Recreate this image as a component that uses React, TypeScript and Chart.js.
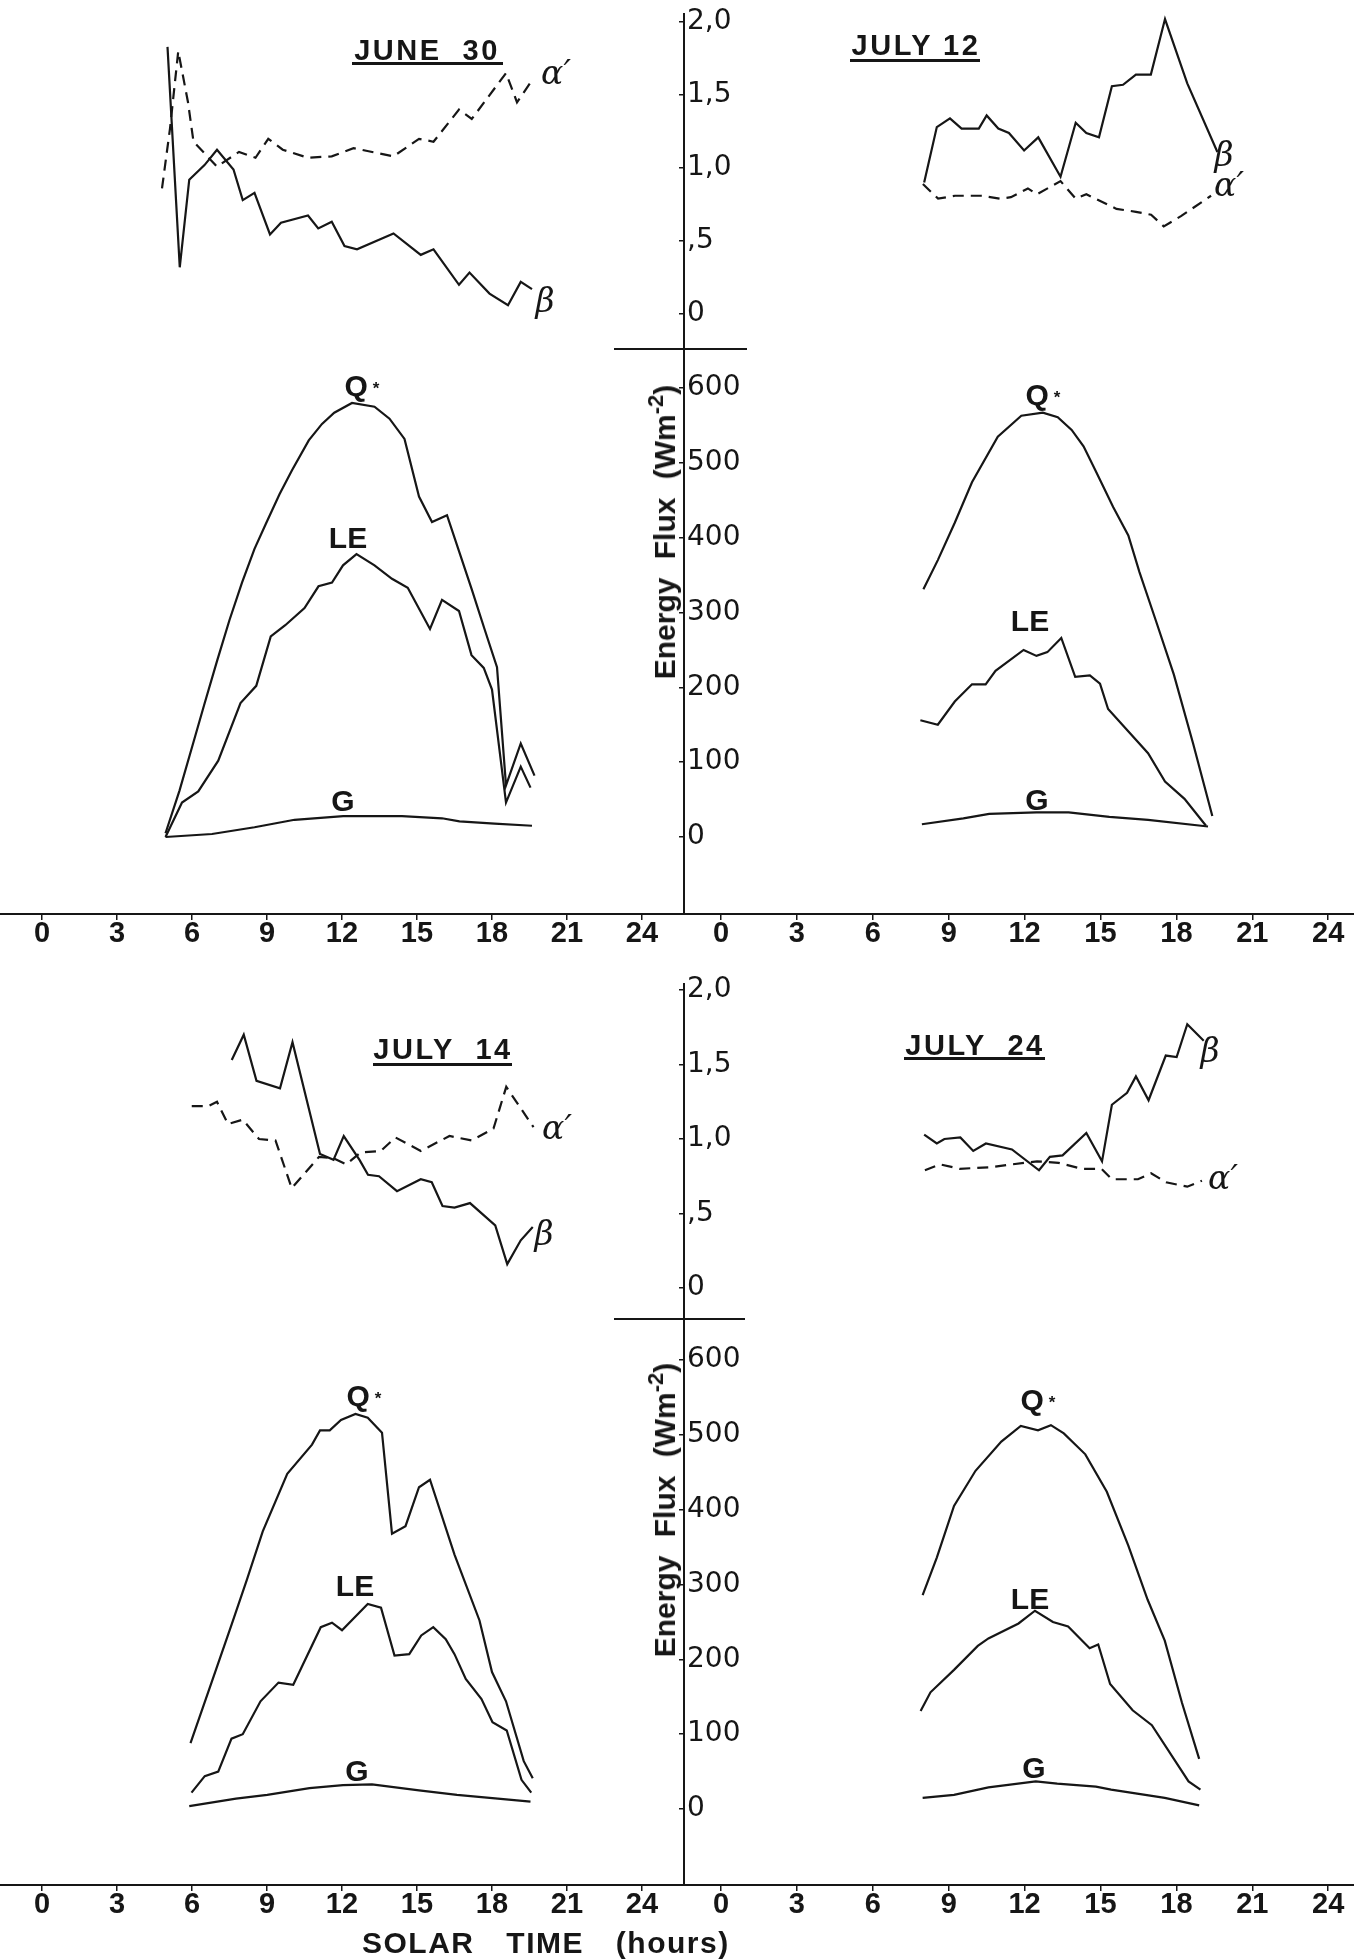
import React, { useEffect, useRef } from 'react';
import { Chart, registerables } from 'chart.js';

Chart.register(...registerables);

// ---------- tick definitions ----------
const HOUR_TICKS = [0, 3, 6, 9, 12, 15, 18, 21, 24];
const BETA_TICKS = [0, 0.5, 1, 1.5, 2];
const BETA_TICK_LABELS = ['0', ',5', '1,0', '1,5', '2,0'];
const FLUX_TICKS = [0, 100, 200, 300, 400, 500, 600];

// ---------- JUNE 30 ----------
const J30_Q_H = [4.94, 5.5, 6, 6.5, 7, 7.5, 8, 8.5, 8.96, 9.5, 10, 10.67, 11.2, 11.69, 12.4, 13.3, 13.9, 14.5, 15.08, 15.6, 16.2, 16.7, 17.2, 17.7, 18.2, 18.56, 19.15, 19.7];
const J30_Q = [5, 62, 120, 178, 235, 290, 340, 385, 419, 458, 490, 530, 552, 567, 580, 575, 559, 532, 455, 421, 430, 380, 330, 278, 227, 69, 125, 82];
const J30_LE_H = [4.94, 5.6, 6.25, 7.05, 7.94, 8.57, 9.15, 9.73, 10.5, 11.06, 11.6, 12.04, 12.58, 13.3, 14.0, 14.63, 15.52, 16.0, 16.68, 17.18, 17.67, 18.0, 18.56, 19.15, 19.54];
const J30_LE = [0, 46, 61, 102, 179, 202, 268, 283, 306, 335, 340, 363, 378, 363, 345, 333, 278, 317, 302, 243, 226, 197, 46, 94, 66];
const J30_G_H = [4.94, 6.8, 8.5, 10.1, 12.05, 14.4, 16.0, 16.7, 18.1, 19.6];
const J30_G = [0, 4, 13, 23, 28, 28, 25, 21, 18, 15];
const J30_BETA_H = [5.02, 5.51, 5.89, 6.5, 7.0, 7.66, 8.03, 8.5, 9.12, 9.56, 10.64, 11.05, 11.59, 12.1, 12.6, 14.06, 15.15, 15.66, 16.68, 17.1, 17.9, 18.64, 19.15, 19.6];
const J30_BETA = [1.83, 0.32, 0.92, 1.02, 1.125, 0.99, 0.78, 0.83, 0.545, 0.625, 0.675, 0.586, 0.632, 0.466, 0.443, 0.552, 0.405, 0.443, 0.2, 0.284, 0.14, 0.06, 0.22, 0.17];
const J30_ALPHA_H = [4.8, 5.12, 5.45, 5.84, 6.06, 7.0, 7.88, 8.54, 9.05, 9.63, 10.64, 11.59, 12.46, 14.06, 15.08, 15.66, 16.68, 17.19, 18.56, 19.0, 19.6];
const J30_ALPHA = [0.86, 1.27, 1.8, 1.45, 1.18, 1.01, 1.11, 1.07, 1.2, 1.125, 1.07, 1.08, 1.136, 1.08, 1.2, 1.18, 1.4, 1.336, 1.65, 1.45, 1.6];

// ---------- JULY 12 ----------
const J12_Q_H = [8.0, 8.57, 9.24, 9.92, 10.94, 11.87, 12.72, 13.31, 13.86, 14.33, 14.84, 15.5, 16.1, 16.54, 17.2, 17.9, 18.66, 19.42];
const J12_Q = [331, 370, 420, 474, 535, 563, 567, 561, 544, 522, 487, 441, 403, 354, 288, 217, 125, 28];
const J12_LE_H = [7.88, 8.57, 9.24, 9.92, 10.46, 10.85, 11.96, 12.47, 12.9, 13.45, 14.0, 14.58, 14.98, 15.3, 16.88, 17.55, 18.32, 19.17];
const J12_LE = [156, 150, 181, 204, 204, 222, 250, 242, 247, 266, 214, 216, 205, 171, 112, 74, 51, 15];
const J12_G_H = [7.94, 9.58, 10.6, 12.47, 13.74, 15.35, 16.88, 19.25];
const J12_G = [17, 25, 31, 33, 33, 27, 23, 14];
const J12_BETA_H = [8.03, 8.53, 9.05, 9.51, 10.19, 10.5, 10.96, 11.38, 11.98, 12.54, 13.42, 14.02, 14.44, 14.94, 15.45, 15.89, 16.4, 16.99, 17.55, 18.43, 19.62];
const J12_BETA = [0.9, 1.28, 1.34, 1.27, 1.27, 1.36, 1.27, 1.24, 1.12, 1.21, 0.94, 1.31, 1.24, 1.21, 1.56, 1.57, 1.64, 1.64, 2.02, 1.58, 1.11];
const J12_ALPHA_H = [7.98, 8.58, 9.25, 10.28, 11.03, 11.46, 12.13, 12.49, 13.42, 14.02, 14.44, 15.63, 16.4, 17.0, 17.5, 18.18, 19.37];
const J12_ALPHA = [0.89, 0.79, 0.81, 0.81, 0.79, 0.8, 0.86, 0.82, 0.91, 0.79, 0.82, 0.72, 0.7, 0.68, 0.6, 0.67, 0.81];

// ---------- JULY 14 ----------
const J14_Q_H = [5.94, 6.78, 7.58, 8.2, 8.83, 9.81, 10.8, 11.12, 11.51, 11.96, 12.54, 13.03, 13.6, 14.0, 14.54, 15.08, 15.52, 16.5, 17.5, 18.0, 18.56, 19.27, 19.63];
const J14_Q = [88, 169, 246, 307, 371, 448, 487, 506, 506, 520, 528, 523, 503, 368, 378, 430, 440, 340, 252, 183, 144, 64, 41];
const J14_LE_H = [5.98, 6.51, 7.05, 7.58, 8.03, 8.74, 9.46, 10.05, 11.15, 11.6, 12.0, 13.03, 13.56, 14.1, 14.69, 15.17, 15.65, 16.15, 16.5, 16.95, 17.58, 18.02, 18.59, 19.18, 19.57];
const J14_LE = [22, 44, 50, 94, 100, 144, 169, 166, 243, 249, 239, 274, 269, 205, 207, 232, 243, 227, 207, 174, 147, 116, 105, 39, 22];
const J14_G_H = [5.89, 7.76, 9.01, 10.7, 12.04, 13.2, 15.08, 16.6, 19.54];
const J14_G = [4, 14, 19, 28, 32, 33, 25, 19, 10];
const J14_BETA_H = [7.59, 8.07, 8.58, 9.52, 10.02, 11.12, 11.66, 12.07, 12.7, 13.04, 13.48, 14.2, 15.15, 15.59, 16.02, 16.5, 17.12, 18.13, 18.61, 19.15, 19.63];
const J14_BETA = [1.53, 1.7, 1.39, 1.34, 1.65, 0.9, 0.86, 1.02, 0.86, 0.76, 0.75, 0.65, 0.73, 0.71, 0.55, 0.54, 0.57, 0.42, 0.16, 0.32, 0.41];
const J14_ALPHA_H = [5.99, 6.64, 7.0, 7.44, 8.03, 8.68, 9.34, 9.99, 11.08, 11.66, 12.17, 12.75, 13.55, 14.14, 15.15, 16.3, 17.19, 18.06, 18.57, 19.66];
const J14_ALPHA = [1.22, 1.22, 1.25, 1.1, 1.13, 1.0, 0.99, 0.67, 0.88, 0.87, 0.83, 0.91, 0.92, 1.01, 0.92, 1.02, 0.99, 1.07, 1.35, 1.08];

// ---------- JULY 24 ----------
const J24_Q_H = [7.97, 8.53, 9.21, 10.06, 11.08, 11.85, 12.53, 13.04, 13.55, 14.4, 15.25, 16.1, 16.86, 17.54, 18.22, 18.9];
const J24_Q = [286, 336, 405, 452, 491, 512, 506, 513, 502, 474, 424, 352, 280, 225, 142, 67];
const J24_LE_H = [7.89, 8.28, 9.21, 10.15, 10.57, 11.76, 12.41, 13.12, 13.72, 14.57, 14.91, 15.38, 16.27, 17.03, 18.48, 18.95];
const J24_LE = [131, 156, 186, 218, 228, 248, 265, 250, 244, 215, 220, 167, 132, 112, 37, 26];
const J24_G_H = [7.97, 9.21, 10.57, 12.44, 13.29, 14.82, 15.42, 17.54, 18.9];
const J24_G = [15, 19, 29, 37, 34, 30, 26, 15, 5];
const J24_BETA_H = [8.03, 8.53, 8.83, 9.46, 9.97, 10.47, 11.5, 12.57, 13.0, 13.5, 14.44, 15.06, 15.45, 16.05, 16.4, 16.9, 17.58, 18.01, 18.43, 19.08];
const J24_BETA = [1.03, 0.97, 1.0, 1.01, 0.92, 0.97, 0.93, 0.79, 0.88, 0.89, 1.04, 0.85, 1.23, 1.31, 1.42, 1.26, 1.56, 1.55, 1.77, 1.66];
const J24_ALPHA_H = [8.06, 8.66, 9.43, 10.62, 11.98, 12.49, 13.34, 14.27, 15.04, 15.45, 16.48, 17.0, 17.59, 18.43, 19.01];
const J24_ALPHA = [0.79, 0.83, 0.8, 0.81, 0.84, 0.85, 0.84, 0.8, 0.8, 0.73, 0.73, 0.77, 0.71, 0.68, 0.72];

// ---------- layout (not data) ----------
const INK = '#161616';
const SANS = "'Liberation Sans', Arial, sans-serif";

type RowGeom = { top: number; height: number; padTop: number; xAxisH: number; yB: [number, number]; yF: [number, number] };
const ROWS: RowGeom[] = [
  { top: 0, height: 960, padTop: 14, xAxisH: 46, yB: [-4.1096, 2.0548], yF: [-102.9, 1099.8] },
  { top: 960, height: 1000, padTop: 24, xAxisH: 75, yB: [-4.0067, 2.0403], yF: [-101.5, 1102.5] },
];
type SideGeom = { left: number; width: number; padLeft: number; padRight: number; xMin: number; xMax: number; showY: boolean };
const SIDES: Record<'L' | 'R', SideGeom> = {
  L: { left: 0, width: 690, padLeft: 0, padRight: 6, xMin: -1.68, xMax: 25.68, showY: false },
  R: { left: 640, width: 714, padLeft: 44, padRight: 0, xMin: -1.4625, xMax: 25.0198, showY: true },
};

type Series = { h: number[]; v: number[]; axis: 'yB' | 'yF'; dashed?: boolean; label: string };

const PANELS: { row: number; side: 'L' | 'R'; series: Series[] }[] = [
  {
    row: 0, side: 'L', series: [
      { label: 'Q* June 30', h: J30_Q_H, v: J30_Q, axis: 'yF' },
      { label: 'LE June 30', h: J30_LE_H, v: J30_LE, axis: 'yF' },
      { label: 'G June 30', h: J30_G_H, v: J30_G, axis: 'yF' },
      { label: 'β June 30', h: J30_BETA_H, v: J30_BETA, axis: 'yB' },
      { label: "α' June 30", h: J30_ALPHA_H, v: J30_ALPHA, axis: 'yB', dashed: true },
    ],
  },
  {
    row: 0, side: 'R', series: [
      { label: 'Q* July 12', h: J12_Q_H, v: J12_Q, axis: 'yF' },
      { label: 'LE July 12', h: J12_LE_H, v: J12_LE, axis: 'yF' },
      { label: 'G July 12', h: J12_G_H, v: J12_G, axis: 'yF' },
      { label: 'β July 12', h: J12_BETA_H, v: J12_BETA, axis: 'yB' },
      { label: "α' July 12", h: J12_ALPHA_H, v: J12_ALPHA, axis: 'yB', dashed: true },
    ],
  },
  {
    row: 1, side: 'L', series: [
      { label: 'Q* July 14', h: J14_Q_H, v: J14_Q, axis: 'yF' },
      { label: 'LE July 14', h: J14_LE_H, v: J14_LE, axis: 'yF' },
      { label: 'G July 14', h: J14_G_H, v: J14_G, axis: 'yF' },
      { label: 'β July 14', h: J14_BETA_H, v: J14_BETA, axis: 'yB' },
      { label: "α' July 14", h: J14_ALPHA_H, v: J14_ALPHA, axis: 'yB', dashed: true },
    ],
  },
  {
    row: 1, side: 'R', series: [
      { label: 'Q* July 24', h: J24_Q_H, v: J24_Q, axis: 'yF' },
      { label: 'LE July 24', h: J24_LE_H, v: J24_LE, axis: 'yF' },
      { label: 'G July 24', h: J24_G_H, v: J24_G, axis: 'yF' },
      { label: 'β July 24', h: J24_BETA_H, v: J24_BETA, axis: 'yB' },
      { label: "α' July 24", h: J24_ALPHA_H, v: J24_ALPHA, axis: 'yB', dashed: true },
    ],
  },
];

function PanelChart({ row, side, series }: { row: number; side: 'L' | 'R'; series: Series[] }) {
  const ref = useRef<HTMLCanvasElement | null>(null);
  const g = ROWS[row];
  const s = SIDES[side];
  useEffect(() => {
    if (!ref.current) return;
    const yCommon = (ticks: number[], labels: (v: number) => string, range: [number, number]) => ({
      type: 'linear' as const,
      position: 'left' as const,
      display: s.showY,
      min: range[0],
      max: range[1],
      bounds: 'data' as const,
      afterBuildTicks: (sc: any) => { sc.ticks = ticks.map((v) => ({ value: v })); },
      afterFit: (sc: any) => { sc.width = 0; sc.paddingTop = 0; sc.paddingBottom = 0; },
      ticks: {
        mirror: true,
        padding: 3,
        autoSkip: false,
        color: INK,
        font: { family: "'DejaVu Sans', sans-serif", size: 28 },
        callback: (v: any) => labels(Number(v)),
      },
      grid: { drawOnChartArea: false, drawTicks: true, tickLength: 5, color: INK, lineWidth: 1.5 },
      border: { display: true, color: INK, width: 2 },
    });
    const chart = new Chart(ref.current, {
      type: 'line',
      data: {
        datasets: series.map((se) => ({
          label: se.label,
          data: se.h.map((h, i) => ({ x: h, y: se.v[i] })),
          xAxisID: 'x',
          yAxisID: se.axis,
          borderColor: INK,
          borderWidth: 2.2,
          borderDash: se.dashed ? [11, 7] : [],
          pointRadius: 0,
          tension: 0,
          fill: false,
        })),
      },
      options: {
        animation: false,
        responsive: false,
        devicePixelRatio: 1,
        events: [],
        layout: { padding: { top: g.padTop, bottom: 0, left: s.padLeft, right: s.padRight } },
        plugins: { legend: { display: false }, tooltip: { enabled: false }, title: { display: false } },
        scales: {
          x: {
            type: 'linear',
            position: 'bottom',
            min: s.xMin,
            max: s.xMax,
            bounds: 'data',
            afterBuildTicks: (sc: any) => { sc.ticks = HOUR_TICKS.map((v) => ({ value: v })); },
            afterFit: (sc: any) => { sc.height = g.xAxisH; sc.paddingLeft = 0; sc.paddingRight = 0; },
            ticks: {
              autoSkip: false,
              maxRotation: 0,
              minRotation: 0,
              padding: -3,
              color: INK,
              font: { family: SANS, size: 29, weight: 'bold' },
              callback: (v: any) => String(v),
            },
            grid: { drawOnChartArea: false, drawTicks: true, tickLength: 6, color: INK, lineWidth: 1.5 },
            border: { display: true, color: INK, width: 2 },
          },
          yB: yCommon(BETA_TICKS, (v) => BETA_TICK_LABELS[BETA_TICKS.indexOf(v)] ?? '', g.yB),
          yF: yCommon(FLUX_TICKS, (v) => String(v), g.yF),
        } as any,
      },
    });
    return () => chart.destroy();
  }, []);
  return (
    <canvas
      ref={ref}
      width={s.width}
      height={g.height}
      style={{ position: 'absolute', left: s.left, top: g.top, width: s.width, height: g.height }}
    />
  );
}

// ---------- text annotations ----------
type Ann = { text: string; x: number; y: number; kind: 'title' | 'lab' | 'greek' | 'q' };
const ANNOTATIONS: Ann[] = [
  { text: 'JUNE  30', x: 427, y: 50, kind: 'title' },
  { text: 'JULY 12', x: 916, y: 45, kind: 'title' },
  { text: 'JULY  14', x: 443, y: 1049, kind: 'title' },
  { text: 'JULY  24', x: 975, y: 1045, kind: 'title' },
  { text: 'Q', x: 362, y: 386, kind: 'q' },
  { text: 'LE', x: 348, y: 538, kind: 'lab' },
  { text: 'G', x: 343, y: 801, kind: 'lab' },
  { text: 'Q', x: 1043, y: 395, kind: 'q' },
  { text: 'LE', x: 1030, y: 621, kind: 'lab' },
  { text: 'G', x: 1037, y: 800, kind: 'lab' },
  { text: 'Q', x: 364, y: 1396, kind: 'q' },
  { text: 'LE', x: 355, y: 1586, kind: 'lab' },
  { text: 'G', x: 357, y: 1771, kind: 'lab' },
  { text: 'Q', x: 1038, y: 1400, kind: 'q' },
  { text: 'LE', x: 1030, y: 1599, kind: 'lab' },
  { text: 'G', x: 1034, y: 1768, kind: 'lab' },
  { text: 'β', x: 545, y: 300, kind: 'greek' },
  { text: 'α′', x: 556, y: 72, kind: 'greek' },
  { text: 'β', x: 1224, y: 154, kind: 'greek' },
  { text: 'α′', x: 1229, y: 184, kind: 'greek' },
  { text: 'β', x: 544, y: 1233, kind: 'greek' },
  { text: 'α′', x: 557, y: 1127, kind: 'greek' },
  { text: 'β', x: 1210, y: 1050, kind: 'greek' },
  { text: 'α′', x: 1223, y: 1177, kind: 'greek' },
];
const UNDERLINES = [
  { x1: 352, x2: 503, y: 63 },
  { x1: 850, x2: 980, y: 60 },
  { x1: 373, x2: 512, y: 1064 },
  { x1: 904, x2: 1045, y: 1058 },
];
const DIVIDERS = [
  { x1: 614, x2: 747, y: 349 },
  { x1: 614, x2: 745, y: 1319 },
];
const FLUX_TITLES = [
  { x: 665, y: 532 },
  { x: 665, y: 1510 },
];

function Annotation({ a }: { a: Ann }) {
  const base: React.CSSProperties = {
    position: 'absolute',
    left: a.x,
    top: a.y,
    transform: 'translate(-50%, -50%)',
    whiteSpace: 'pre',
    lineHeight: 1,
    color: INK,
  };
  if (a.kind === 'title') {
    return <div style={{ ...base, fontFamily: SANS, fontWeight: 'bold', fontSize: 29, letterSpacing: 2.5 }}>{a.text}</div>;
  }
  if (a.kind === 'greek') {
    return <div style={{ ...base, fontFamily: "'DejaVu Serif', serif", fontStyle: 'italic', fontSize: 33 }}>{a.text}</div>;
  }
  if (a.kind === 'q') {
    return (
      <div style={{ ...base, fontFamily: SANS, fontWeight: 'bold', fontSize: 30 }}>
        Q<span style={{ fontSize: 17, marginLeft: 5, verticalAlign: 2 }}>*</span>
      </div>
    );
  }
  return <div style={{ ...base, fontFamily: SANS, fontWeight: 'bold', fontSize: 30 }}>{a.text}</div>;
}

export default function App() {
  return (
    <div
      style={{
        position: 'absolute',
        left: 0,
        top: 0,
        width: 1354,
        height: 1960,
        overflow: 'hidden',
        background: '#ffffff',
      }}
    >
      {PANELS.map((p, i) => (
        <PanelChart key={i} row={p.row} side={p.side} series={p.series} />
      ))}
      {DIVIDERS.map((d, i) => (
        <div key={'d' + i} style={{ position: 'absolute', left: d.x1, top: d.y - 1, width: d.x2 - d.x1, height: 2, background: INK }} />
      ))}
      {UNDERLINES.map((u, i) => (
        <div key={'u' + i} style={{ position: 'absolute', left: u.x1, top: u.y - 1.5, width: u.x2 - u.x1, height: 3, background: INK }} />
      ))}
      {ANNOTATIONS.map((a, i) => (
        <Annotation key={'a' + i} a={a} />
      ))}
      {FLUX_TITLES.map((t, i) => (
        <div
          key={'f' + i}
          style={{
            position: 'absolute',
            left: t.x,
            top: t.y,
            transform: 'translate(-50%, -50%) rotate(-90deg)',
            whiteSpace: 'nowrap',
            lineHeight: 1,
            fontFamily: SANS,
            fontWeight: 'bold',
            fontSize: 30,
            wordSpacing: 10,
            color: INK,
          }}
        >
          Energy Flux (Wm<sup style={{ fontSize: 22, verticalAlign: 12, lineHeight: 0 }}>-2</sup>)
        </div>
      ))}
      <div
        style={{
          position: 'absolute',
          left: 362,
          top: 1943,
          transform: 'translateY(-50%)',
          whiteSpace: 'pre',
          lineHeight: 1,
          fontFamily: SANS,
          fontWeight: 'bold',
          fontSize: 30,
          letterSpacing: 1.5,
          wordSpacing: 22,
          color: INK,
        }}
      >
        SOLAR TIME (hours)
      </div>
    </div>
  );
}
